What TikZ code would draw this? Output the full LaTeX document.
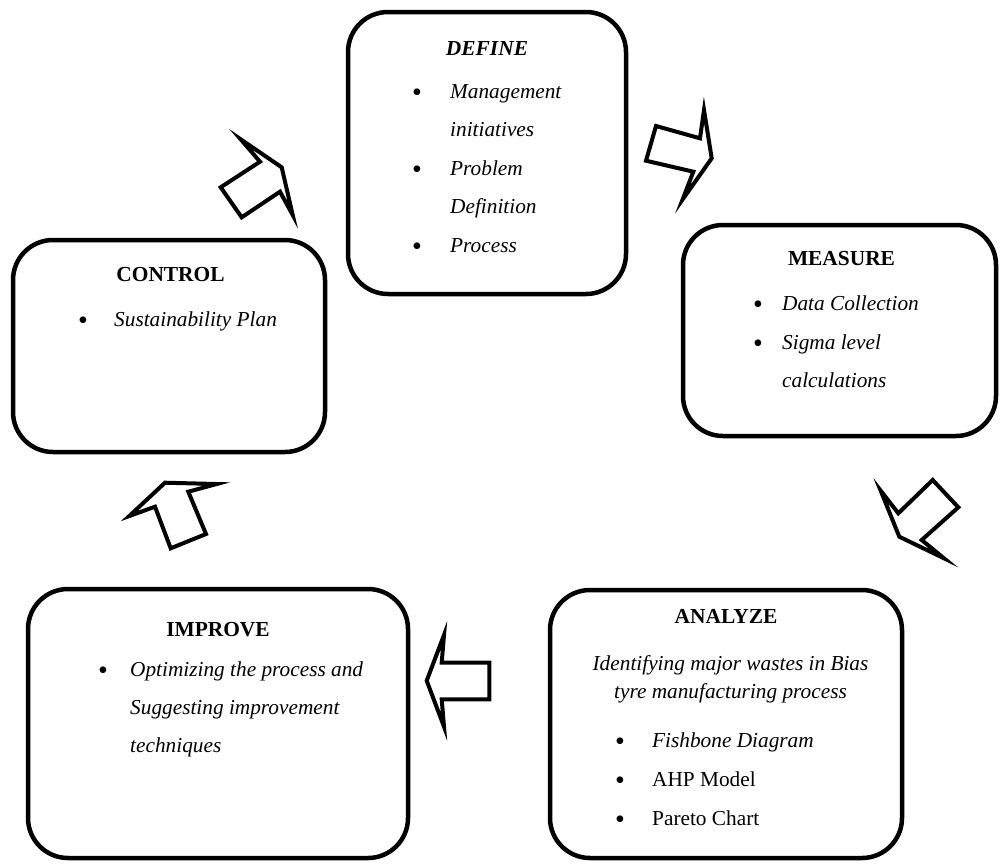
\documentclass[tikz,border=0pt]{standalone}
\usepackage{fontspec}
\setmainfont{Liberation Serif}
\begin{document}
\begin{tikzpicture}[x=1pt,y=-1pt,
  box/.style={draw,line width=4.5pt,rounded corners=40pt,inner sep=0pt},
  blockarrow/.style={draw,line width=4pt,line join=miter,fill=white},
  title/.style={anchor=base,inner sep=0pt,font=\fontsize{21.4}{25}\selectfont\bfseries},
  txt/.style={anchor=base west,inner sep=0pt,font=\fontsize{21.3}{25}\selectfont\itshape},
  rtxt/.style={anchor=base west,inner sep=0pt,font=\fontsize{21.3}{25}\selectfont},
  ctxt/.style={anchor=base,inner sep=0pt,font=\fontsize{21.3}{25}\selectfont\itshape},
  bul/.style={anchor=base,inner sep=0pt,font=\fontsize{28}{28}\selectfont,yshift=-3pt}]
\useasboundingbox (0,0) rectangle (1001,863);
% boxes
\node[box,minimum width=278pt,minimum height=282pt] (define) at (487,153) {};
\node[box,minimum width=313pt,minimum height=211pt] (measure) at (839.5,330.5) {};
\node[box,minimum width=312pt,minimum height=212pt] (control) at (169,346) {};
\node[box,minimum width=380pt,minimum height=269pt] (improve) at (218,723.5) {};
\node[box,minimum width=352pt,minimum height=268pt] (analyze) at (726,724) {};
% DEFINE text
\node[title,font=\fontsize{21.4}{25}\selectfont\bfseries\itshape] (dt) at (487,55) {DEFINE};
\node[bul] (db1) at (417,98) {•};
\node[txt] (d1) at (450,98) {Management};
\node[txt] (d2) at (450,136) {initiatives};
\node[bul] (db2) at (417,175) {•};
\node[txt] (d3) at (450,175) {Problem};
\node[txt] (d4) at (450,213) {Definition};
\node[bul] (db3) at (417,252) {•};
\node[txt] (d5) at (450,252) {Process};
% MEASURE text
\node[title] (mt) at (841.5,265) {MEASURE};
\node[bul] (mb1) at (758,310) {•};
\node[txt] (m1) at (782,310) {Data Collection};
\node[bul] (mb2) at (758,349) {•};
\node[txt] (m2) at (782,349) {Sigma level};
\node[txt] (m3) at (782,387) {calculations};
% CONTROL text
\node[title] (ct) at (170.5,281) {CONTROL};
\node[bul] (cb1) at (83,326) {•};
\node[txt] (c1) at (114,326) {Sustainability Plan};
% IMPROVE text
\node[title] (it) at (218,636) {IMPROVE};
\node[bul] (ib1) at (103,676) {•};
\node[txt] (i1) at (130,676) {Optimizing the process and};
\node[txt] (i2) at (130,714) {Suggesting improvement};
\node[txt] (i3) at (130,752) {techniques};
% ANALYZE text
\node[title] (at) at (726,623) {ANALYZE};
\node[ctxt] (a1) at (730.5,670) {Identifying major wastes in Bias};
\node[ctxt] (a2) at (730.5,698) {tyre manufacturing process};
\node[bul] (ab1) at (620,747) {•};
\node[txt] (a3) at (652,747) {Fishbone Diagram};
\node[bul] (ab2) at (620,786) {•};
\node[rtxt] (a4) at (652,786) {AHP Model};
\node[bul] (ab3) at (620,825) {•};
\node[rtxt] (a5) at (652,825) {Pareto Chart};
% block arrows
\draw[blockarrow] (240.7,139.3) -- (281.7,167.3) -- (292.7,215) -- (280,191.7) -- (241.7,217.3) -- (220.7,187.3) -- (260,161.7) -- cycle;
\draw[blockarrow] (704,110) -- (711.7,158.3) -- (682.7,199.3) -- (693.3,171.7) -- (646,160.7) -- (656,126) -- (700,138.3) -- cycle;
\draw[blockarrow] (880.7,490.7) -- (898.3,513.3) -- (932.7,480) -- (958.3,507.3) -- (921.7,540) -- (944,558.3) -- (899.3,536.7) -- cycle;
\draw[blockarrow] (444,635) -- (441.7,662.7) -- (489.3,662.7) -- (489.3,699.3) -- (441.7,699.3) -- (444,726.7) -- (426.7,680.7) -- cycle;
\draw[blockarrow] (129.3,516) -- (165,482.7) -- (216.7,484) -- (188.3,491.7) -- (206,534) -- (170.7,548.3) -- (155,506.7) -- cycle;
\end{tikzpicture}
\end{document}
